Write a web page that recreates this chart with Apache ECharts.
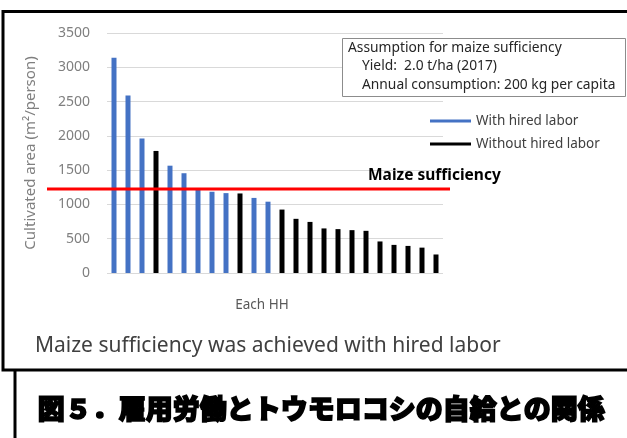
<!DOCTYPE html>
<html>
<head>
<meta charset="utf-8">
<script src="https://cdn.jsdelivr.net/npm/echarts@6/dist/echarts.min.js"></script>
<style>
  html, body { margin: 0; padding: 0; background: #fff; }
  #chart { width: 627px; height: 438px; }
</style>
</head>
<body>
<div id="chart"></div>
<script>
// one bar per household, sorted high to low
const households = ['1','2','3','4','5','6','7','8','9','10','11','12','13','14','15','16','17','18','19','20','21','22','23','24'];
const areaValues = [3140, 2590, 1960, 1780, 1565, 1455, 1225, 1185, 1165, 1160, 1095, 1040, 925, 790, 745, 650, 640, 625, 615, 460, 410, 395, 370, 270];
const hiredLabor = [1, 1, 1, 0, 1, 1, 1, 1, 1, 0, 1, 1, 0, 0, 0, 0, 0, 0, 0, 0, 0, 0, 0, 0];
const yTicks = [0, 500, 1000, 1500, 2000, 2500, 3000, 3500];
const sufficiencyLevel = 1225;

const BLUE = '#4472C4';
const FONT = '"Noto Sans", sans-serif';

const withHired = areaValues.map((v, i) => (hiredLabor[i] ? v : '-'));
const withoutHired = areaValues.map((v, i) => (hiredLabor[i] ? '-' : v));

const chart = echarts.init(document.getElementById('chart'), null, { renderer: 'canvas' });

chart.setOption({
  animation: false,
  textStyle: { fontFamily: FONT },
  grid: [
    { left: 107, right: 184, top: 33, bottom: 165 },
    // wider grid only for the red sufficiency line
    { left: 47, right: 177, top: 33, bottom: 165 },
  ],
  xAxis: [
    {
      gridIndex: 0,
      type: 'category',
      data: households,
      axisLine: { show: false },
      axisTick: { show: false },
      axisLabel: { show: false },
      name: 'Each HH',
      nameLocation: 'middle',
      nameGap: 25,
      nameTextStyle: { color: '#595959', fontSize: 13.5, padding: [0, 26, 0, 0] },
    },
    {
      gridIndex: 1,
      type: 'category',
      data: ['a', 'b'],
      boundaryGap: false,
      show: false,
    },
  ],
  yAxis: [
    {
      gridIndex: 0,
      type: 'value',
      min: yTicks[0],
      max: yTicks[yTicks.length - 1],
      interval: yTicks[1] - yTicks[0],
      axisLine: { show: false },
      axisTick: { show: false },
      axisLabel: { color: '#7f7f7f', fontSize: 14, margin: 17, formatter: v => String(v) },
      splitLine: { lineStyle: { color: '#d9d9d9', width: 1 } },
      name: 'Cultivated area (m²/person)',
      nameLocation: 'middle',
      nameRotate: 90,
      nameGap: 69,
      nameTextStyle: { color: '#7f7f7f', fontSize: 15 },
    },
    {
      gridIndex: 1,
      type: 'value',
      min: yTicks[0],
      max: yTicks[yTicks.length - 1],
      show: false,
    },
  ],
  legend: {
    orient: 'vertical',
    left: 425,
    top: 109,
    itemWidth: 41,
    itemHeight: 3,
    itemGap: 9,
    selectedMode: false,
    textStyle: { color: '#404040', fontSize: 13.5, fontFamily: FONT },
    data: [
      { name: 'With hired labor', icon: 'rect' },
      { name: 'Without hired labor', icon: 'rect' },
    ],
  },
  series: [
    {
      name: 'With hired labor',
      type: 'bar',
      stack: 'hh',
      barWidth: 5,
      itemStyle: { color: BLUE },
      data: withHired,
    },
    {
      name: 'Without hired labor',
      type: 'bar',
      stack: 'hh',
      barWidth: 5,
      itemStyle: { color: '#000' },
      data: withoutHired,
    },
    {
      name: 'Maize sufficiency',
      type: 'line',
      xAxisIndex: 1,
      yAxisIndex: 1,
      symbol: 'none',
      z: 5,
      lineStyle: { color: '#ff0000', width: 3 },
      data: [sufficiencyLevel, sufficiencyLevel],
    },
  ],
  graphic: [
    // outer frame, right edge is off the picture
    {
      type: 'rect',
      shape: { x: 3, y: 11.5, width: 660, height: 358.5 },
      style: { fill: null, stroke: '#000', lineWidth: 3 },
      z: 10,
    },
    {
      type: 'line',
      shape: { x1: 15, y1: 370, x2: 15, y2: 440 },
      style: { stroke: '#000', lineWidth: 3 },
      z: 10,
    },
    // assumption box
    {
      type: 'rect',
      shape: { x: 342.5, y: 38.5, width: 283, height: 58 },
      style: { fill: '#fff', stroke: '#8c8c8c', lineWidth: 1 },
      z: 8,
    },
    {
      type: 'text',
      left: 348, top: 41, z: 9,
      style: { text: 'Assumption for maize sufficiency', fill: '#262626', font: '13.8px ' + FONT },
    },
    {
      type: 'text',
      left: 362, top: 59.5, z: 9,
      style: { text: 'Yield:  2.0 t/ha (2017)', fill: '#262626', font: '13.8px ' + FONT },
    },
    {
      type: 'text',
      left: 362, top: 78, z: 9,
      style: { text: 'Annual consumption: 200 kg per capita', fill: '#262626', font: '13.8px ' + FONT },
    },
    {
      type: 'text',
      left: 368, top: 168, z: 9,
      style: { text: 'Maize sufficiency', fill: '#000', font: 'bold 15.5px ' + FONT },
    },
    {
      type: 'text',
      left: 35, top: 336,
      style: { text: 'Maize sufficiency was achieved with hired labor', fill: '#404040', font: '21px ' + FONT },
    },
    {
      type: 'text',
      left: 37, top: 394,
      style: {
        text: '図５．雇用労働とトウモロコシの自給との関係',
        fill: '#000', stroke: '#000', lineWidth: 1.6,
        font: '900 27px "Noto Sans CJK JP"',
      },
    },
  ],
});
</script>
</body>
</html>
